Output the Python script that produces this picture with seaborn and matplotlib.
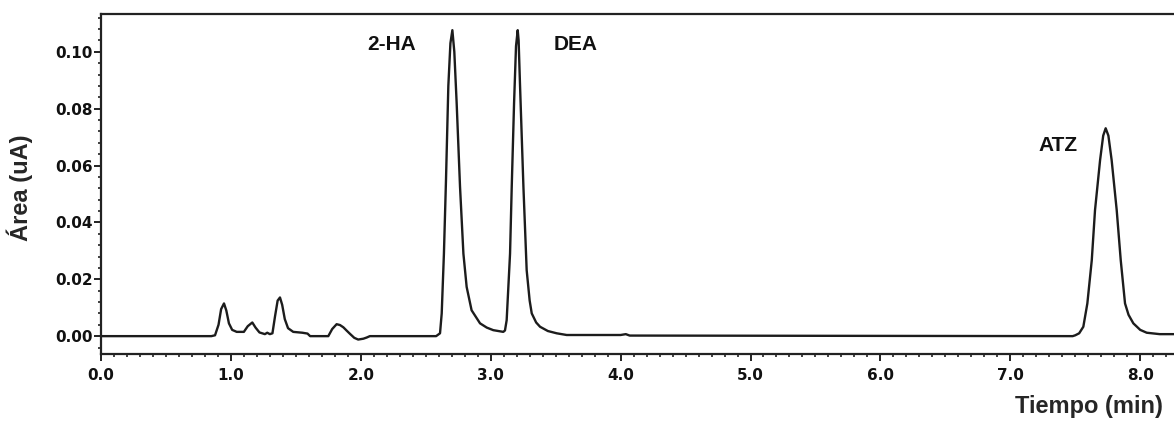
import numpy as np
import pandas as pd
import matplotlib
matplotlib.use("Agg")
import matplotlib.pyplot as plt
import seaborn as sns
from matplotlib.ticker import MultipleLocator, FormatStrFormatter

tiempo = [0.0, 0.85, 0.878, 0.905, 0.925, 0.947, 0.965, 0.985, 1.01, 1.045,
          1.10, 1.13, 1.165, 1.19, 1.22, 1.262, 1.28, 1.30, 1.32, 1.34,
          1.36, 1.378, 1.395, 1.415, 1.44, 1.48, 1.55, 1.59, 1.61, 1.75,
          1.78, 1.814, 1.84, 1.866, 1.89, 1.917, 1.95, 1.98, 2.02, 2.045,
          2.07, 2.58, 2.61, 2.623, 2.64, 2.656, 2.674, 2.69, 2.705, 2.72,
          2.738, 2.764, 2.79, 2.815, 2.853, 2.918, 2.97, 3.02, 3.097, 3.11,
          3.123, 3.149, 3.162, 3.18, 3.195, 3.208, 3.215, 3.226, 3.252, 3.277,
          3.30, 3.316, 3.35, 3.38, 3.44, 3.508, 3.585, 4.0, 4.04, 4.07,
          7.48, 7.50, 7.53, 7.562, 7.593, 7.627, 7.652, 7.691, 7.715, 7.734,
          7.755, 7.78, 7.819, 7.85, 7.883, 7.91, 7.947, 8.0, 8.05, 8.15, 8.26]
area = [0.0, 0.0, 0.0003, 0.004, 0.0095, 0.0115, 0.009, 0.0045, 0.0022, 0.0015,
        0.0015, 0.0035, 0.0048, 0.003, 0.0013, 0.0007, 0.0012, 0.0007, 0.001, 0.007,
        0.0125, 0.0136, 0.011, 0.006, 0.0028, 0.0015, 0.0012, 0.0009, 0.0, 0.0,
        0.0025, 0.0042, 0.0039, 0.0031, 0.002, 0.0008, -0.0006, -0.0012, -0.0009, -0.0005,
        0.0, 0.0, 0.001, 0.008, 0.029, 0.055, 0.088, 0.103, 0.1076, 0.100,
        0.082, 0.0525, 0.029, 0.0173, 0.0091, 0.0045, 0.003, 0.0021, 0.0015, 0.002,
        0.0056, 0.029, 0.0525, 0.082, 0.102, 0.1076, 0.104, 0.088, 0.0525, 0.0232,
        0.0125, 0.008, 0.0048, 0.0033, 0.0018, 0.001, 0.0004, 0.0004, 0.0007, 0.0002,
        0.0, 0.0003, 0.001, 0.0033, 0.0115, 0.0267, 0.0443, 0.0619, 0.0705, 0.0731,
        0.0705, 0.0619, 0.0443, 0.0267, 0.0115, 0.0075, 0.0045, 0.0022, 0.0012, 0.0007, 0.0007]

picos = ["2-HA", "DEA", "ATZ"]
picos_x = [2.24, 3.65, 7.37]
picos_y = [0.1024, 0.1024, 0.0672]

df = pd.DataFrame({"Tiempo": tiempo, "Area": area})

sns.set_style("ticks")

fig = plt.figure(figsize=(11.74, 4.23), dpi=100)
ax = fig.add_axes([0.086, 0.163, 0.914, 0.804])

sns.lineplot(data=df, x="Tiempo", y="Area", ax=ax, color="#1c1c1c",
             linewidth=1.7, estimator=None, sort=False)

ax.set_xlim(0, 8.26)
ax.set_ylim(-0.0063, 0.1133)

ax.xaxis.set_major_locator(MultipleLocator(1.0))
ax.xaxis.set_minor_locator(MultipleLocator(0.1))
ax.xaxis.set_major_formatter(FormatStrFormatter("%.1f"))
ax.yaxis.set_major_locator(MultipleLocator(0.02))
ax.yaxis.set_minor_locator(MultipleLocator(0.004))
ax.yaxis.set_major_formatter(FormatStrFormatter("%.2f"))

ax.tick_params(which="major", direction="out", length=5, width=1.4, colors="#222222")
ax.tick_params(which="minor", direction="out", length=2.5, width=1.2, colors="#222222")
ax.tick_params(axis="x", which="major", pad=5)
ax.tick_params(axis="y", which="major", pad=1)
for lab in ax.get_xticklabels() + ax.get_yticklabels():
    lab.set_fontfamily("DejaVu Sans")
    lab.set_fontweight("bold")
    lab.set_fontsize(11)
    lab.set_color("#111111")

for side in ["left", "bottom", "top"]:
    ax.spines[side].set_linewidth(1.6)
    ax.spines[side].set_color("#222222")
ax.spines["right"].set_visible(False)

ax.set_ylabel("Área (uA)", fontsize=17, fontweight="bold", family="Liberation Sans")
ax.yaxis.set_label_coords(-0.063, 0.49)
ax.set_xlabel("Tiempo (min)", fontsize=17, fontweight="bold", family="Liberation Sans", loc="right")
ax.xaxis.set_label_coords(0.99, -0.12)

for nombre, px, py in zip(picos, picos_x, picos_y):
    ax.text(px, py, nombre, fontsize=15, fontweight="bold", family="Liberation Sans",
            ha="center", va="center", color="#111111")

fig.savefig("out.png", dpi=100)
plt.close(fig)
